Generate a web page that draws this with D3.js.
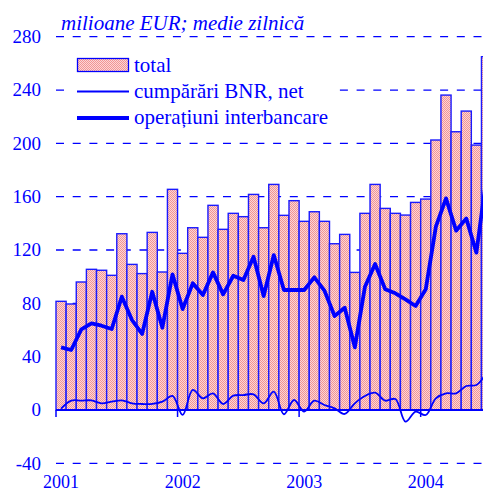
<!DOCTYPE html>
<html>
<head>
<meta charset="utf-8">
<script src="https://cdn.jsdelivr.net/npm/d3@7"></script>
<style>
    body { margin: 0; background: #fff; }
    svg { display: block; }
</style>
</head>
<body>
<div class="chart"></div>
<script>
// months Jan 2001 .. Jul 2004 (last one is cut by the right edge)
var months = [
    "2001-01", "2001-02", "2001-03", "2001-04", "2001-05", "2001-06", "2001-07", "2001-08", "2001-09", "2001-10", "2001-11", "2001-12",
    "2002-01", "2002-02", "2002-03", "2002-04", "2002-05", "2002-06", "2002-07", "2002-08", "2002-09", "2002-10", "2002-11", "2002-12",
    "2003-01", "2003-02", "2003-03", "2003-04", "2003-05", "2003-06", "2003-07", "2003-08", "2003-09", "2003-10", "2003-11", "2003-12",
    "2004-01", "2004-02", "2004-03", "2004-04", "2004-05", "2004-06", "2004-07"
];
var total = [
    81.5, 79.5, 96, 105.5, 104.8, 101, 132.2, 109.2, 102.3, 133.2, 103.5, 165.5,
    117.5, 136.7, 129.5, 153.5, 135.5, 147.5, 145, 161.7, 136.7, 169.2, 146, 157,
    141.5, 148.7, 141.5, 124.7, 131.7, 103.2, 147.5, 169.2, 151.2, 147.5, 146.2, 155.7,
    158.2, 202.5, 236.2, 208.7, 224.2, 198.7, 265
];
var cumparariBNR = [
    1, 7, 7, 7.2, 5, 6.2, 7.2, 5, 4.5, 4.5, 6.2, 10.5,
    -3.75, 15, 8.7, 12.5, 4.5, 10.7, 11.2, 11.75, 5, 13.7, -3.2, 7.5,
    -1.25, 7, 3.75, 1.25, -3, 5, 10.5, 13, 7, 8.2, -8.75, -1.25,
    -3.75, 8.75, 12.5, 12.5, 18, 18.75, 28
];
var interbancare = [
    47, 45, 60.5, 65, 63.2, 60.7, 85, 67.5, 57, 88.7, 61.7, 101.7,
    75.7, 95, 86.2, 103.2, 86.7, 100.7, 97.5, 115, 85.5, 116.2, 90, 90,
    90, 99.5, 89.5, 70.5, 76.7, 47, 92.5, 109.5, 90.5, 87.5, 83, 78,
    90.5, 137.5, 158.7, 134.5, 143.7, 118, 175
];
var yTicks = [280, 240, 200, 160, 120, 80, 40, 0, -40];
var years = ["2001", "2002", "2003", "2004"];
var legendItems = ["total", "cumpărări BNR, net", "operațiuni interbancare"];
var unitLabel = "milioane EUR; medie zilnică";

var width = 483, height = 493;
var blue = "#0000ff";
var serif = "'Liberation Serif', 'Times New Roman', serif";

var x = d3.scaleBand()
    .domain(months)
    .range([56, 56 + months.length * 10.13])
    .padding(0);
var y = d3.scaleLinear()
    .domain([-40, 280])
    .range([463.3, 36.7]);

var svg = d3.select(".chart").append("svg")
    .attr("width", width)
    .attr("height", height)
    .style("font-family", serif);

// pink dotted fill of the bars
var pat = svg.append("defs").append("pattern")
    .attr("id", "dots")
    .attr("width", 2)
    .attr("height", 2)
    .attr("patternUnits", "userSpaceOnUse");
pat.append("rect").attr("width", 2).attr("height", 2).attr("fill", "#fcd6d6");
pat.append("rect").attr("width", 1).attr("height", 1).attr("fill", "#f29494");
pat.append("rect").attr("x", 1).attr("y", 1).attr("width", 1).attr("height", 1).attr("fill", "#f29494");

// dashed grid
svg.append("g")
    .selectAll("line")
    .data(yTicks.filter(d => d !== 0))
    .join("line")
    .attr("x1", 56)
    .attr("x2", width)
    .attr("y1", d => y(d))
    .attr("y2", d => y(d))
    .attr("stroke", blue)
    .attr("stroke-width", 1.3)
    .attr("stroke-dasharray", "8,8.7");

// y labels
svg.append("g")
    .attr("text-anchor", "end")
    .style("font-size", "19px")
    .attr("fill", blue)
    .selectAll("text")
    .data(yTicks)
    .join("text")
    .attr("x", 41)
    .attr("y", d => y(d))
    .attr("dy", "0.34em")
    .text(d => d);

// bars
svg.append("g")
    .selectAll("rect")
    .data(months)
    .join("rect")
    .attr("x", d => x(d))
    .attr("y", (d, i) => y(total[i]))
    .attr("width", x.bandwidth())
    .attr("height", (d, i) => y(0) - y(total[i]))
    .attr("fill", "url(#dots)")
    .attr("stroke", "#1a1aff")
    .attr("stroke-width", 1.4);

// x axis line and year ticks
svg.append("line")
    .attr("x1", 56).attr("x2", width)
    .attr("y1", y(0)).attr("y2", y(0))
    .attr("stroke", blue)
    .attr("stroke-width", 2);
svg.append("g")
    .selectAll("line")
    .data(years)
    .join("line")
    .attr("x1", d => x(d + "-01"))
    .attr("x2", d => x(d + "-01"))
    .attr("y1", y(0))
    .attr("y2", y(0) + 7)
    .attr("stroke", blue)
    .attr("stroke-width", 1.5);
svg.append("g")
    .attr("text-anchor", "middle")
    .style("font-size", "18px")
    .attr("fill", blue)
    .selectAll("text")
    .data(years)
    .join("text")
    .attr("x", d => x(d + "-01") + x.bandwidth() / 2)
    .attr("y", 488)
    .text(d => d);

var cx = (d, i) => x(months[i]) + x.bandwidth() / 2;

// cumparari BNR, net - smoothed thin line
svg.append("path")
    .datum(cumparariBNR)
    .attr("fill", "none")
    .attr("stroke", blue)
    .attr("stroke-width", 1.8)
    .attr("d", d3.line().x(cx).y(d => y(d)).curve(d3.curveCatmullRom.alpha(0.5)));

// operatiuni interbancare - thick line
svg.append("path")
    .datum(interbancare)
    .attr("fill", "none")
    .attr("stroke", blue)
    .attr("stroke-width", 3.8)
    .attr("stroke-linejoin", "round")
    .attr("d", d3.line().x(cx).y(d => y(d)));

// unit label
svg.append("text")
    .attr("x", 61)
    .attr("y", 30)
    .attr("fill", blue)
    .style("font-size", "21px")
    .style("font-style", "italic")
    .text(unitLabel);

// legend (white box hides the grid)
var legend = svg.append("g");
legend.append("rect")
    .attr("x", 66).attr("y", 49)
    .attr("width", 272).attr("height", 82)
    .attr("fill", "#fff");
legend.append("rect")
    .attr("x", 77.5).attr("y", 58.5)
    .attr("width", 51).attr("height", 13)
    .attr("fill", "url(#dots)")
    .attr("stroke", blue)
    .attr("stroke-width", 1.3);
legend.append("line")
    .attr("x1", 77).attr("x2", 129)
    .attr("y1", 91.5).attr("y2", 91.5)
    .attr("stroke", blue).attr("stroke-width", 1.8);
legend.append("line")
    .attr("x1", 77).attr("x2", 129)
    .attr("y1", 118).attr("y2", 118)
    .attr("stroke", blue).attr("stroke-width", 3.8);
legend.selectAll("text")
    .data(legendItems)
    .join("text")
    .attr("x", 134)
    .attr("y", (d, i) => 72 + i * 26)
    .attr("fill", blue)
    .style("font-size", "21px")
    .text(d => d);
</script>
</body>
</html>
